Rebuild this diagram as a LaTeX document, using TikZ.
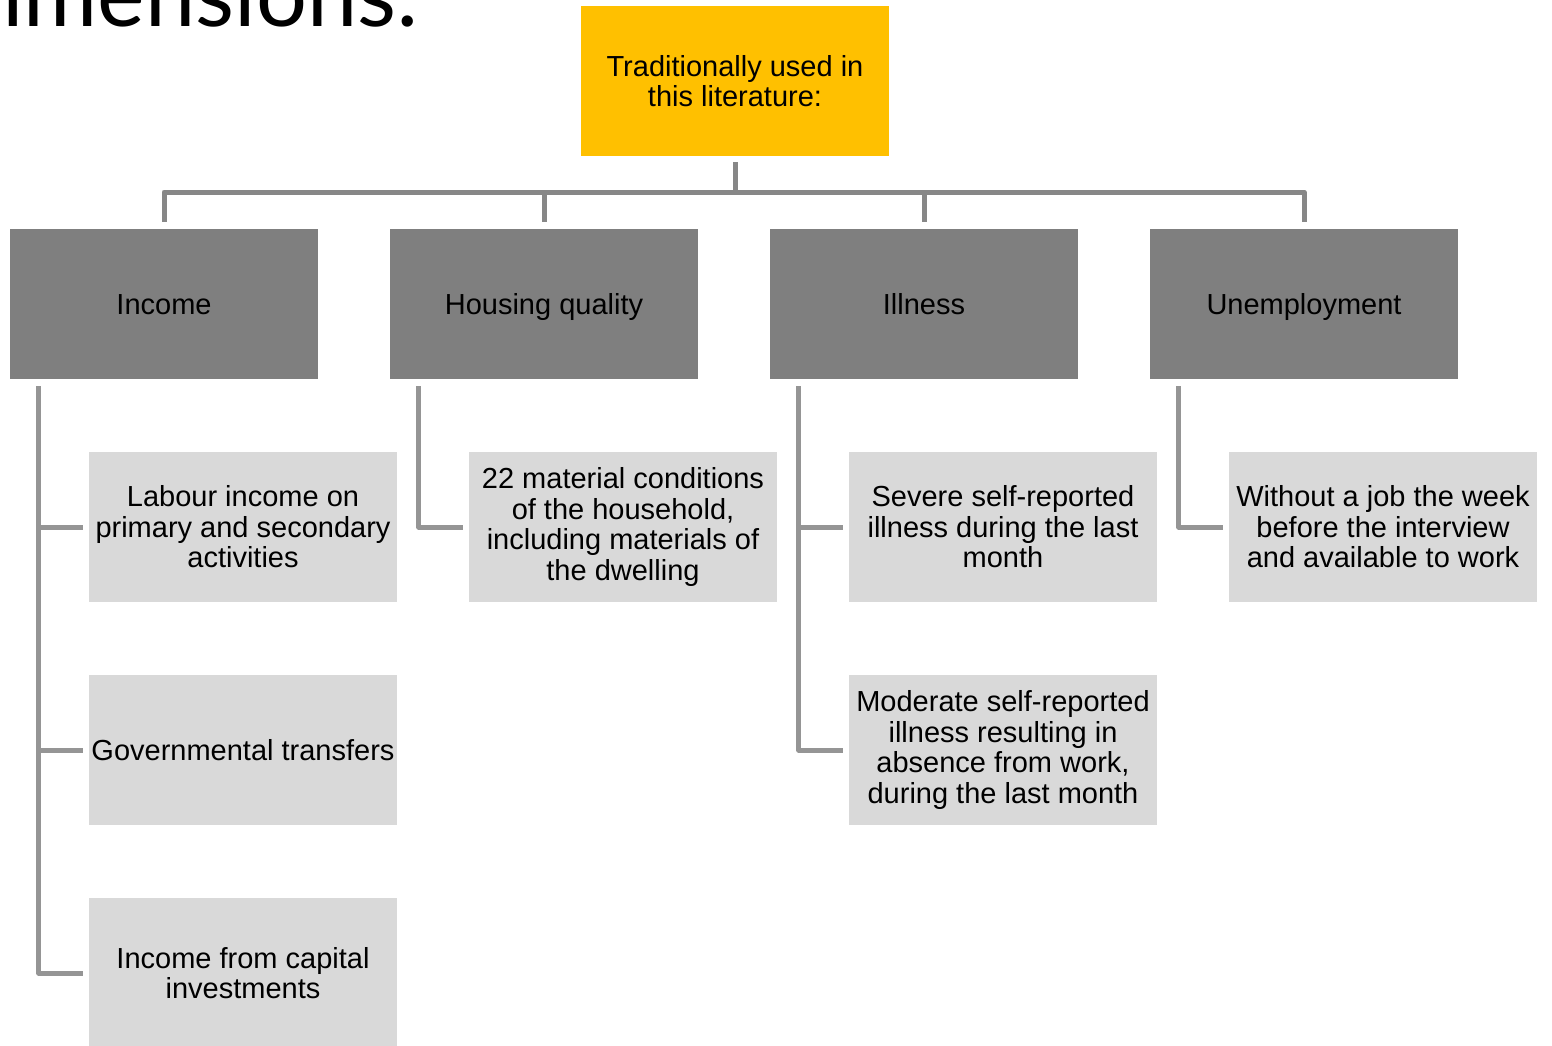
\documentclass[tikz,border=0pt]{standalone}
\usepackage{fontspec}
\setmainfont{Liberation Sans}
\newfontfamily\titlefont{Lato}
\usetikzlibrary{positioning}
\definecolor{topyellow}{HTML}{FFC000}
\definecolor{catgray}{HTML}{7F7F7F}
\definecolor{itemgray}{HTML}{D9D9D9}
\definecolor{busgray}{HTML}{878787}
\definecolor{linegray}{HTML}{959595}

\begin{document}
\begin{tikzpicture}[x=1pt, y=-1pt,
    topbox/.style={fill=topyellow, minimum width=308pt, minimum height=150pt,
        inner sep=0pt, align=center, font=\fontsize{29}{30.5}\selectfont},
    catbox/.style={topbox, fill=catgray, text height=21pt, text depth=0pt},
    itembox/.style={topbox, fill=itemgray},
    bus/.style={draw=busgray, line width=5pt, line join=round},
    link/.style={draw=linegray, line width=5pt, line join=round}]
    \useasboundingbox (0,0) rectangle (1552,1045);

    % heading, cut by the page
    \node[anchor=base east, inner sep=0pt, font=\titlefont\fontsize{90}{96}\selectfont] (title) at (419,26) {Dimensions:};

    \node[topbox] (top) at (735,81) {Traditionally used in\\this literature:};

    \node[catbox] (income) at (164,304) {Income};
    \node[catbox] (housing) at (544,304) {Housing quality};
    \node[catbox] (illness) at (924,304) {Illness};
    \node[catbox] (unemp) at (1304,304) {Unemployment};

    \node[itembox] (labour) at (243,527) {Labour income on\\primary and secondary\\activities};
    \node[itembox] (transfers) at (243,750) {Governmental transfers};
    \node[itembox] (capital) at (243,973) {Income from capital\\investments};
    \node[itembox] (material) at (623,527) {22 material conditions\\of the household,\\including materials of\\the dwelling};
    \node[itembox] (severe) at (1003,527) {Severe self-reported\\illness during the last\\month};
    \node[itembox] (moderate) at (1003,750) {Moderate self-reported\\illness resulting in\\absence from work,\\during the last month};
    \node[itembox] (nojob) at (1383,527) {Without a job the week\\before the interview\\and available to work};

    % top level connectors
    \coordinate (busline) at (735,192);
    \draw[bus] ([yshift=-6pt]top.south) -- (busline);
    \draw[bus] ([yshift=7pt]income.north) |- (busline) -| ([yshift=7pt]unemp.north);
    \foreach \n in {housing,illness}
        \draw[bus] (\n.north |- busline) -- ([yshift=7pt]\n.north);

    % item connectors
    \coordinate (incspine) at ([xshift=29pt, yshift=-7pt]income.south west);
    \draw[link] (incspine) |- ([xshift=-6pt]capital.west);
    \draw[link] (labour.west -| incspine) -- ([xshift=-6pt]labour.west);
    \draw[link] (transfers.west -| incspine) -- ([xshift=-6pt]transfers.west);
    \draw[link] ([xshift=29pt, yshift=-7pt]housing.south west) |- ([xshift=-6pt]material.west);
    \coordinate (illspine) at ([xshift=29pt, yshift=-7pt]illness.south west);
    \draw[link] (illspine) |- ([xshift=-6pt]moderate.west);
    \draw[link] (severe.west -| illspine) -- ([xshift=-6pt]severe.west);
    \draw[link] ([xshift=29pt, yshift=-7pt]unemp.south west) |- ([xshift=-6pt]nojob.west);
\end{tikzpicture}
\end{document}
